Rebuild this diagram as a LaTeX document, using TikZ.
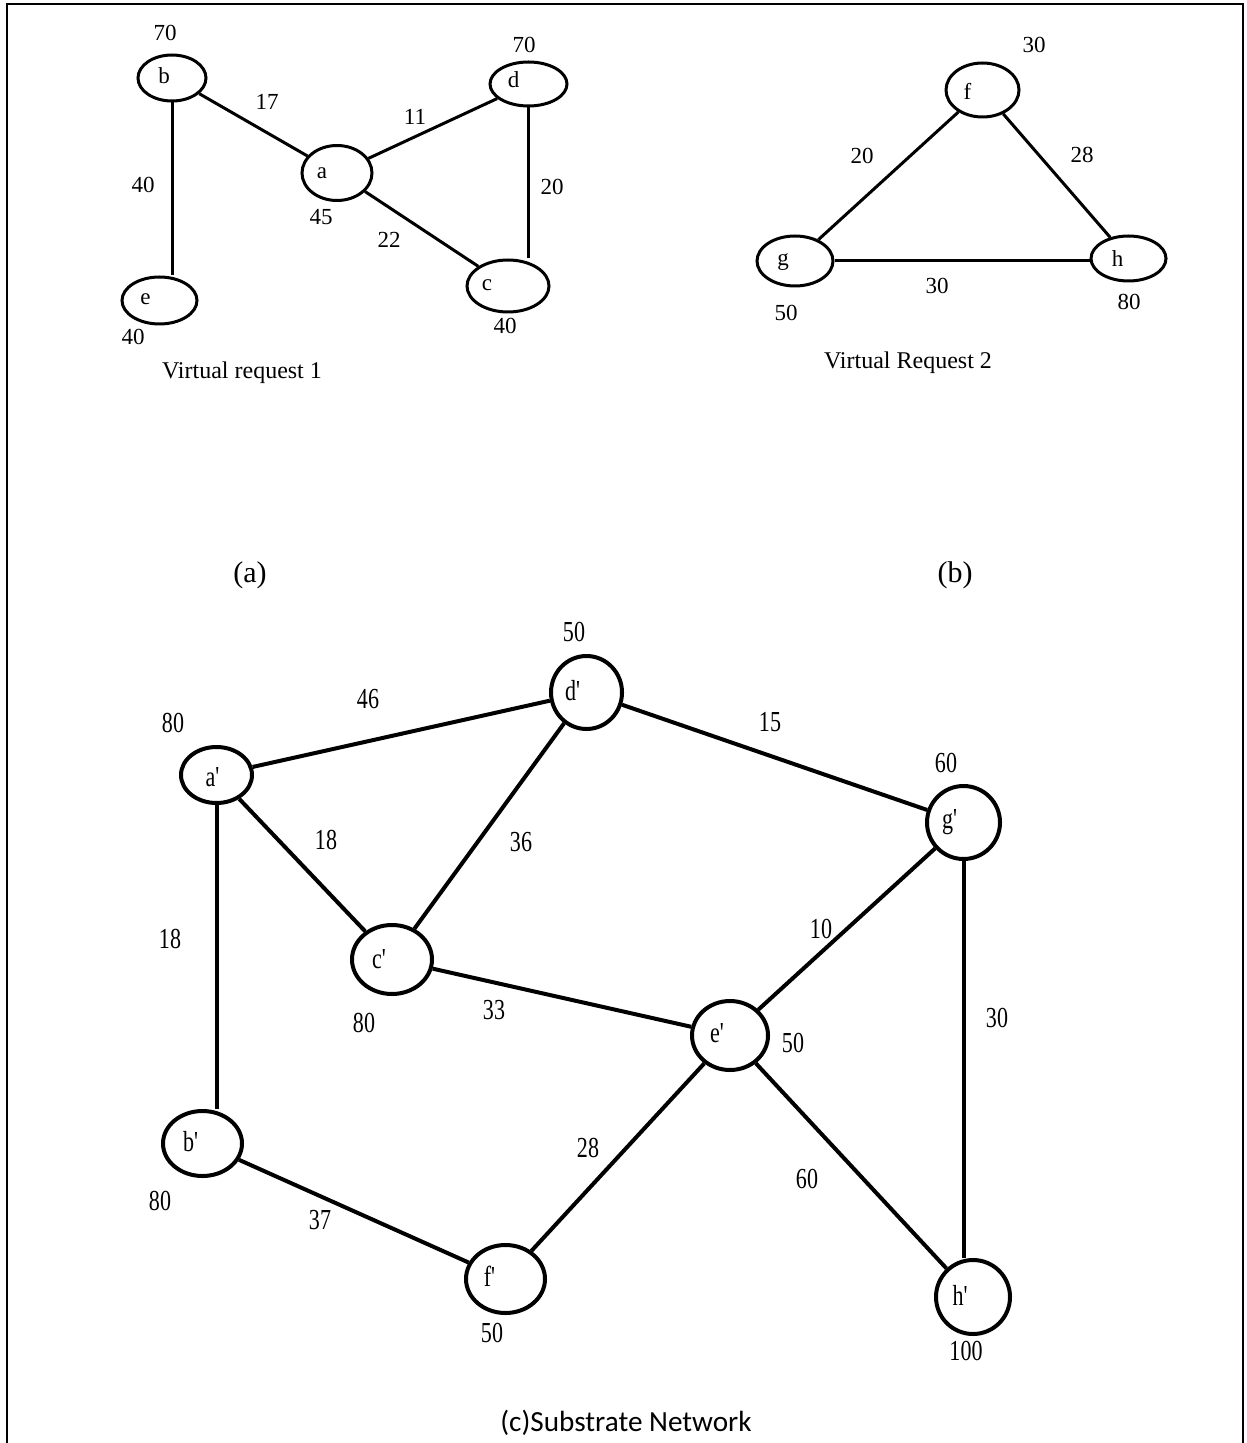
\documentclass[tikz,border=0pt]{standalone}
\usepackage{fontspec}
\setmainfont{Liberation Serif}
\newfontfamily\narrowserif[FakeStretch=0.76]{Liberation Serif}
\newfontfamily\capfont{Carlito}
\usetikzlibrary{shapes.geometric}
\begin{document}
\begin{tikzpicture}[x=0.5pt,y=-0.5pt,
  topnode/.style={ellipse,draw,line width=1.5pt,inner sep=0pt},
  botnode/.style={ellipse,draw,line width=2pt,inner sep=0pt},
  toptxt/.style={font=\fontsize{11.5}{13}\selectfont,inner sep=0pt},
  bottxt/.style={font=\narrowserif\fontsize{14.5}{16}\selectfont,inner sep=0pt},
  topedge/.style={line width=1.5pt},
  botedge/.style={line width=2pt},
  frame/.style={line width=1pt},
]
\useasboundingbox (0,0) rectangle (1246,1443);
\draw[frame] (7,1443) -- (7,4) -- (1243,4) -- (1243,1443);

% ---------- Virtual request 1 ----------
\node[topnode,minimum width=34pt,minimum height=23pt,label={[toptxt,xshift=-4pt,yshift=1pt]center:b}] (b) at (172,78) {};
\node[topnode,minimum width=35pt,minimum height=27.5pt,label={[toptxt,xshift=-7.5pt]center:a}] (a) at (337,173) {};
\node[topnode,minimum width=38.5pt,minimum height=22pt,label={[toptxt,xshift=-7.5pt,yshift=2pt]center:d}] (d) at (528.5,84) {};
\node[topnode,minimum width=41pt,minimum height=26pt,label={[toptxt,xshift=-10.5pt,yshift=0.5pt]center:c}] (c) at (508,286) {};
\node[topnode,minimum width=37.5pt,minimum height=23.5pt,label={[toptxt,xshift=-7pt,yshift=0.5pt]center:e}] (e) at (159.5,300.5) {};

\draw[topedge] (b.south) -- (b.south |- e.north);
\draw[topedge] (b) -- (a);
\draw[topedge] (a) -- (d);
\draw[topedge] (a) -- (c);
\draw[topedge] (d.south) -- (d.south |- c.north);

\node[toptxt] (wb) at (165,33) {70};
\node[toptxt] (wd) at (524,45) {70};
\node[toptxt] (wa) at (321,217) {45};
\node[toptxt] (wc) at (505,326) {40};
\node[toptxt] (we) at (133,337) {40};
\node[toptxt] (wbe) at (143,185) {40};
\node[toptxt] (wba) at (267,102) {17};
\node[toptxt] (wad) at (415,117) {11};
\node[toptxt] (wdc) at (552,187) {20};
\node[toptxt] (wac) at (389,240) {22};
\node[font=\fontsize{12}{14}\selectfont,inner sep=0pt] (t1) at (242,373) {Virtual request 1};

% ---------- Virtual request 2 ----------
\node[topnode,minimum width=36.5pt,minimum height=27pt,label={[toptxt,xshift=-7.5pt,yshift=-0.5pt]center:f}] (f) at (982.5,90) {};
\node[topnode,minimum width=38pt,minimum height=25pt,label={[toptxt,xshift=-6pt,yshift=-0.5pt]center:g}] (g) at (795,261) {};
\node[topnode,minimum width=37.5pt,minimum height=22.5pt,label={[toptxt,xshift=-5.5pt]center:h}] (h) at (1128.5,258.5) {};

\draw[topedge] (f) -- (g);
\draw[topedge] (f) -- (h);
\draw[topedge] (g.east) -- (g.east -| h.west);

\node[toptxt] (wf) at (1034,45) {30};
\node[toptxt] (wfg) at (862,156) {20};
\node[toptxt] (wfh) at (1082,155) {28};
\node[toptxt] (wgh) at (937,286) {30};
\node[toptxt] (wg) at (786,313) {50};
\node[toptxt] (wh) at (1129,302) {80};
\node[font=\fontsize{12}{14}\selectfont,inner sep=0pt] (t2) at (908,363) {Virtual Request 2};

\node[font=\fontsize{15}{17}\selectfont,inner sep=0pt] (ca) at (250,575) {(a)};
\node[font=\fontsize{15}{17}\selectfont,inner sep=0pt] (cb) at (955,575) {(b)};

% ---------- Substrate network ----------
\node[botnode,minimum width=35.5pt,minimum height=28pt,label={[bottxt,xshift=-2pt,yshift=-1pt]center:a'}] (A) at (216.5,775) {};
\node[botnode,minimum width=35.5pt,minimum height=36.5pt,label={[bottxt,xshift=-7pt,yshift=1pt]center:d'}] (D) at (586.5,692.5) {};
\node[botnode,minimum width=36.5pt,minimum height=36.5pt,label={[bottxt,xshift=-7pt]center:g'}] (G) at (963.5,822.5) {};
\node[botnode,minimum width=40pt,minimum height=34.5pt,label={[bottxt,xshift=-6.5pt]center:c'}] (C) at (392,959.5) {};
\node[botnode,minimum width=38pt,minimum height=34.5pt,label={[bottxt,xshift=-6.5pt,yshift=1pt]center:e'}] (E) at (730,1035.5) {};
\node[botnode,minimum width=39.5pt,minimum height=32.5pt,label={[bottxt,xshift=-6pt,yshift=1pt]center:b'}] (B) at (202.5,1143.5) {};
\node[botnode,minimum width=39.5pt,minimum height=34pt,label={[bottxt,xshift=-8pt,yshift=1.5pt]center:f'}] (F) at (505.5,1279) {};
\node[botnode,minimum width=37pt,minimum height=37pt,label={[bottxt,xshift=-6.5pt,yshift=1pt]center:h'}] (H) at (973,1297) {};

\draw[botedge] (A) -- (D);
\draw[botedge] (A) -- (C);
\draw[botedge] (A.south) -- (A.south |- B.north);
\draw[botedge] (D) -- (C);
\draw[botedge] (D) -- (G);
\draw[botedge] (G) -- (E);
\draw[botedge] (G.south) -- (G.south |- H.north);
\draw[botedge] (C) -- (E);
\draw[botedge] (E) -- (F);
\draw[botedge] (E) -- (H);
\draw[botedge] (B) -- (F);

\node[bottxt] (wD) at (574,632) {50};
\node[bottxt] (wAD) at (368,699) {46};
\node[bottxt] (wA) at (173,723) {80};
\node[bottxt] (wDG) at (770,722) {15};
\node[bottxt] (wG) at (946,763) {60};
\node[bottxt] (wAC) at (326,840) {18};
\node[bottxt] (wDC) at (521,842) {36};
\node[bottxt] (wAB) at (170,939) {18};
\node[bottxt] (wGE) at (821,929) {10};
\node[bottxt] (wC) at (364,1023) {80};
\node[bottxt] (wCE) at (494,1010) {33};
\node[bottxt] (wE) at (793,1043) {50};
\node[bottxt] (wGH) at (997,1018) {30};
\node[bottxt] (wEF) at (588,1148) {28};
\node[bottxt] (wEH) at (807,1179) {60};
\node[bottxt] (wB) at (160,1201) {80};
\node[bottxt] (wBF) at (320,1220) {37};
\node[bottxt] (wF) at (492,1333) {50};
\node[bottxt] (wH) at (966,1351) {100};
\node[font=\capfont\fontsize{14.6}{17}\selectfont,inner sep=0pt] (cc) at (626,1423) {(c)Substrate Network};
\end{tikzpicture}
\end{document}
